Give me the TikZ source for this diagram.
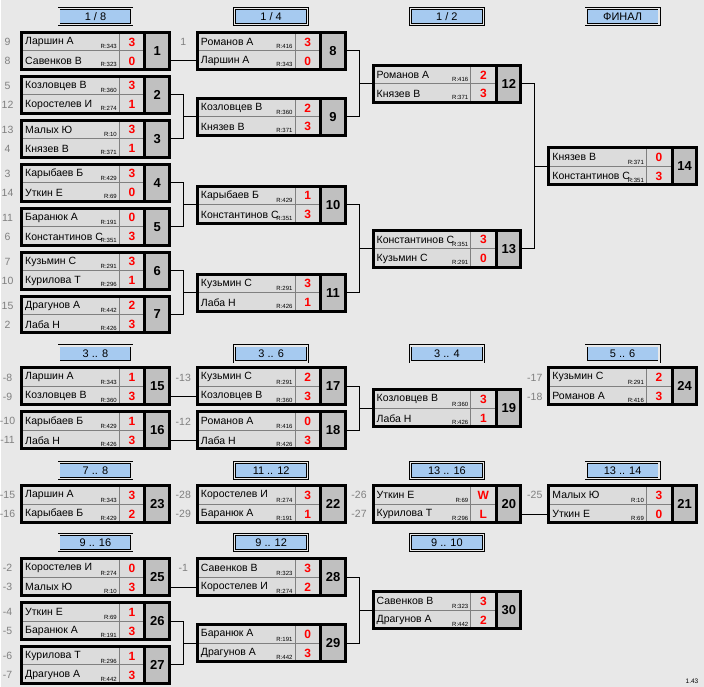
\documentclass[tikz,border=0pt]{standalone}
\usepackage{fontspec}
\setmainfont{Liberation Sans}
\definecolor{bggray}{HTML}{E8E8E8}
\definecolor{cellgray}{HTML}{DCDCDC}
\definecolor{numgray}{HTML}{C0C0C0}
\definecolor{linegray}{HTML}{808080}
\definecolor{seedgray}{HTML}{808080}
\definecolor{hdrblue}{HTML}{A6CAF0}
\begin{document}
\begin{tikzpicture}[x=1pt,y=-1pt,
  match/.style={fill=cellgray,inner sep=0,outer sep=0,minimum width=148pt,minimum height=37pt},
  player/.style={anchor=west,inner sep=0,font=\fontsize{10.5}{12}\selectfont},
  rating/.style={anchor=east,inner sep=0,font=\fontsize{6}{7}\selectfont},
  score/.style={inner sep=0,text=red,font=\bfseries\fontsize{12}{14}\selectfont},
  mnum/.style={inner sep=0,font=\bfseries\fontsize{13}{15}\selectfont},
  seed/.style={inner sep=0,text=seedgray,font=\fontsize{10.5}{12}\selectfont},
  hdr/.style={draw=black,line width=0.8pt,double=bggray,double distance=1.4pt,fill=hdrblue,
    minimum width=73pt,minimum height=16pt,inner sep=0,font=\fontsize{11}{13}\selectfont},
  link/.style={line width=1pt,black}]
  \fill[bggray] (0,0) rectangle (704,688);
  % headers
  \foreach \hx/\hy/\txt [count=\k] in {94.5/16.5/{1 / 8}, 270.5/16.5/{1 / 4}, 446.5/16.5/{1 / 2},
      622.5/16.5/{ФИНАЛ}, 94.5/354.5/{3 .. 8}, 270.5/354.5/{3 .. 6}, 446.5/354.5/{3 .. 4},
      622.5/354.5/{5 .. 6}, 94.5/471/{7 .. 8}, 270.5/471/{11 .. 12}, 446.5/471/{13 .. 16},
      622.5/471/{13 .. 14}, 94.5/543.5/{9 .. 16}, 270.5/543.5/{9 .. 12}, 446.5/543.5/{9 .. 10}}
    \node[hdr] (hd\k) at (\hx,\hy) {\txt};
  % matches
  \foreach \id/\x/\y/\na/\ra/\sa/\nb/\rb/\sb in {
      1/19/51/Ларшин А/343/3/Савенков В/323/0,
      2/19/95/Козловцев В/360/3/Коростелев И/274/1,
      3/19/139/Малых Ю/10/3/Князев В/371/1,
      4/19/183/Карыбаев Б/429/3/Уткин Е/69/0,
      5/19/227/Баранюк А/191/0/Константинов С/351/3,
      6/19/271/Кузьмин С/291/3/Курилова Т/296/1,
      7/19/315/Драгунов А/442/2/Лаба Н/426/3,
      8/195/51/Романов А/416/3/Ларшин А/343/0,
      9/195/117/Козловцев В/360/2/Князев В/371/3,
      10/195/205/Карыбаев Б/429/1/Константинов С/351/3,
      11/195/293/Кузьмин С/291/3/Лаба Н/426/1,
      12/371/84/Романов А/416/2/Князев В/371/3,
      13/371/249/Константинов С/351/3/Кузьмин С/291/0,
      14/547/166.5/Князев В/371/0/Константинов С/351/3,
      15/19/387/Ларшин А/343/1/Козловцев В/360/3,
      16/19/431/Карыбаев Б/429/1/Лаба Н/426/3,
      17/195/387/Кузьмин С/291/2/Козловцев В/360/3,
      18/195/431/Романов А/416/0/Лаба Н/426/3,
      19/371/409/Козловцев В/360/3/Лаба Н/426/1,
      24/547/387/Кузьмин С/291/2/Романов А/416/3,
      23/19/505/Ларшин А/343/3/Карыбаев Б/429/2,
      22/195/505/Коростелев И/274/3/Баранюк А/191/1,
      20/371/505/Уткин Е/69/W/Курилова Т/296/L,
      21/547/505/Малых Ю/10/3/Уткин Е/69/0,
      25/19/578/Коростелев И/274/0/Малых Ю/10/3,
      26/19/622/Уткин Е/69/1/Баранюк А/191/3,
      27/19/666/Курилова Т/296/1/Драгунов А/442/3,
      28/195/578/Савенков В/323/3/Коростелев И/274/2,
      29/195/644/Баранюк А/191/0/Драгунов А/442/3,
      30/371/611/Савенков В/323/3/Драгунов А/442/2} {
    \node[match] (m\id) at (\x+75.5,\y) {};
    \fill[numgray] (\x+125,\y-18.5) rectangle (\x+149.5,\y+18.5);
    \draw[linegray,line width=1pt] (\x+99.5,\y-18.5) -- (\x+99.5,\y+18.5) (\x+1.5,\y) -- (\x+125,\y);
    \draw[line width=3pt] (m\id.north west) rectangle (m\id.south east) (\x+125,\y-18.5) -- (\x+125,\y+18.5);
    \node[player] (pa\id) at (\x+5,\y-9) {\na};
    \node[player] (pb\id) at (\x+5,\y+10) {\nb};
    \node[rating] (ra\id) at (\x+97,\y-4) {R:\ra};
    \node[rating] (rb\id) at (\x+97,\y+14) {R:\rb};
    \node[score] (sa\id) at (\x+112,\y-9) {\sa};
    \node[score] (sb\id) at (\x+112,\y+10) {\sb};
    \node[mnum] (num\id) at (\x+137.5,\y) {\id};
  }
  % seeds
  \foreach \id/\yo/\txt [count=\k] in {1/9/9, 1/-10/8, 2/9/5, 2/-10/12, 3/9/13, 3/-10/4,
      4/9/3, 4/-10/14, 5/9/11, 5/-10/6, 6/9/7, 6/-10/10, 7/9/15, 7/-10/2, 8/9/1,
      15/9/-8, 15/-10/-9, 16/9/-10, 16/-10/-11, 17/9/-13, 18/9/-12, 24/9/-17, 24/-10/-18,
      23/9/-15, 23/-10/-16, 22/9/-28, 22/-10/-29, 20/9/-26, 20/-10/-27, 21/9/-25,
      25/9/-2, 25/-10/-3, 26/9/-4, 26/-10/-5, 27/9/-6, 27/-10/-7, 28/9/-1}
    \node[seed] (sd\k) at ([xshift=-14pt,yshift=\yo pt]m\id.west) {\txt};
  % connectors
  \draw[link] ([yshift=-10pt]m1.east) -- ([yshift=-10pt]m8.west);
  \draw[link] (m2.east) -- ++(14,0) |- (m9.west);
  \draw[link] (m3.east) -- ++(14,0) |- (m9.west);
  \draw[link] (m4.east) -- ++(14,0) |- (m10.west);
  \draw[link] (m5.east) -- ++(14,0) |- (m10.west);
  \draw[link] (m6.east) -- ++(14,0) |- (m11.west);
  \draw[link] (m7.east) -- ++(14,0) |- (m11.west);
  \draw[link] (m8.east) -- ++(14,0) |- (m12.west);
  \draw[link] (m9.east) -- ++(14,0) |- (m12.west);
  \draw[link] (m10.east) -- ++(14,0) |- (m13.west);
  \draw[link] (m11.east) -- ++(14,0) |- (m13.west);
  \draw[link] (m12.east) -- ++(14,0) |- (m14.west);
  \draw[link] (m13.east) -- ++(14,0) |- (m14.west);
  \draw[link] ([yshift=-10pt]m15.east) -- ([yshift=-10pt]m17.west);
  \draw[link] ([yshift=-10pt]m16.east) -- ([yshift=-10pt]m18.west);
  \draw[link] (m17.east) -- ++(14,0) |- (m19.west);
  \draw[link] (m18.east) -- ++(14,0) |- (m19.west);
  \draw[link] ([yshift=-10pt]m20.east) -- ([yshift=-10pt]m21.west);
  \draw[link] ([yshift=-10pt]m25.east) -- ([yshift=-10pt]m28.west);
  \draw[link] (m26.east) -- ++(14,0) |- (m29.west);
  \draw[link] (m27.east) -- ++(14,0) |- (m29.west);
  \draw[link] (m28.east) -- ++(14,0) |- (m30.west);
  \draw[link] (m29.east) -- ++(14,0) |- (m30.west);
  \node[font=\fontsize{6.5}{8}\selectfont,inner sep=0] (ver) at (692,682) {1.43};
\end{tikzpicture}
\end{document}
